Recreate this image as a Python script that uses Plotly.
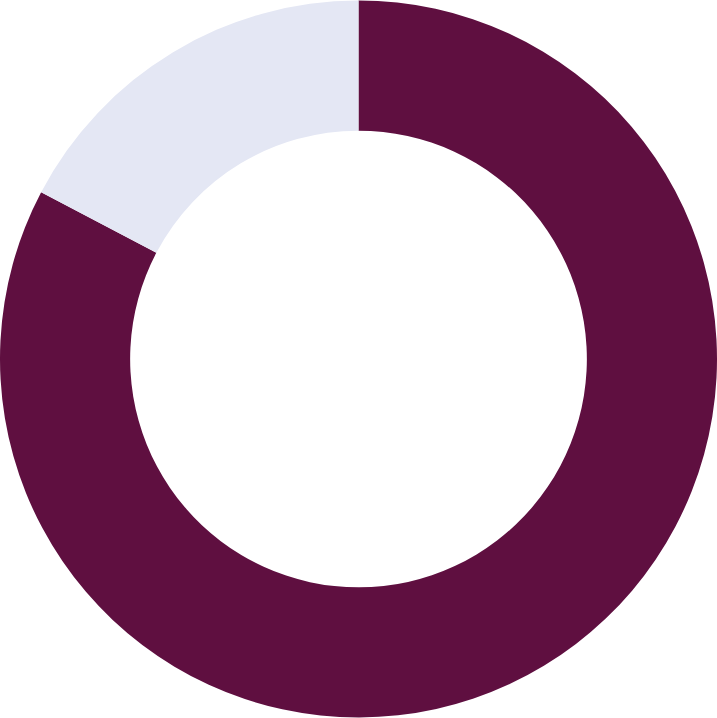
import plotly.graph_objects as go

labels = ["Share", "Rest"]
values = [82.7, 17.3]
colors = ["#5F0F40", "#E4E7F4"]

fig = go.Figure()
fig.add_trace(go.Pie(
    labels=labels,
    values=values,
    hole=0.637,
    sort=False,
    direction="clockwise",
    rotation=0,
    textinfo="none",
    marker=dict(colors=colors, line=dict(width=0)),
))
fig.update_layout(
    width=717,
    height=718,
    margin=dict(l=0, r=0, t=0, b=0),
    showlegend=False,
    paper_bgcolor="white",
)
# drop the default body margin so the donut fills the window, no modebar
fig.write_html("out.html", config={"displayModeBar": False},
               post_script="document.body.style.margin='0';")
